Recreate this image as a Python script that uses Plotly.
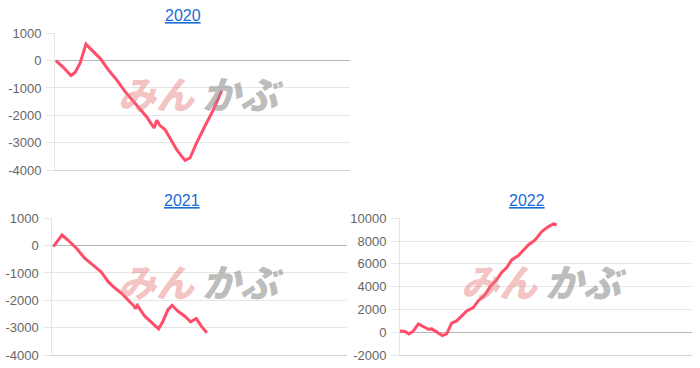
import plotly.graph_objects as go

# x positions are percent of the year axis (0-100)
x2020 = [0.3, 2.8, 5.4, 6.8, 8.5, 10.5, 11.9, 15.3, 18.1, 20.9, 23.7, 26.6, 28.8, 31.1, 32.8, 33.6, 34.5, 35.6, 37.3, 39.0, 41.2, 42.9, 44.1, 45.8, 48.0, 50.8, 53.7, 55.4, 56.5]
y2020 = [0, -242, -545, -436, -97, 606, 448, 85, -339, -703, -1127, -1490, -1733, -2060, -2339, -2460, -2182, -2376, -2521, -2824, -3248, -3491, -3648, -3552, -3006, -2400, -1794, -1370, -1091]

x2021 = [0.34, 3.3, 5.3, 8.2, 11.0, 13.8, 16.7, 18.9, 20.6, 23.4, 25.7, 27.8, 28.2, 28.9, 31.4, 33.6, 36.1, 37.6, 39.3, 40.7, 42.7, 45.0, 47.0, 48.9, 50.6, 52.5]
y2021 = [-36, 388, 206, -97, -461, -703, -970, -1309, -1491, -1733, -1976, -2218, -2303, -2182, -2582, -2788, -3042, -2764, -2339, -2182, -2400, -2582, -2788, -2667, -2945, -3188]

x2022 = [0, 1.7, 3.1, 4.6, 6.3, 8.0, 9.7, 10.9, 12.6, 14.5, 16.0, 17.7, 19.4, 21.7, 22.9, 25.1, 26.8, 29.1, 30.9, 33.1, 34.9, 36.6, 38.3, 40.6, 42.3, 44.0, 46.3, 48.6, 50.9, 52.6, 53.7]
y2022 = [117, 58, -146, 117, 731, 497, 263, 292, 0, -292, -146, 789, 994, 1579, 1871, 2164, 2749, 3275, 4006, 4591, 5263, 5673, 6345, 6725, 7222, 7661, 8099, 8830, 9269, 9503, 9415]

titles = ["2020", "2021", "2022"]
ticks_a = [1000, 0, -1000, -2000, -3000, -4000]
ticks_b = [10000, 8000, 6000, 4000, 2000, 0, -2000]
line_color = "#ff4d6a"

fig = go.Figure()
fig.add_trace(go.Scatter(x=x2020, y=y2020, mode="lines", line=dict(color=line_color, width=3), xaxis="x", yaxis="y"))
fig.add_trace(go.Scatter(x=x2021, y=y2021, mode="lines", line=dict(color=line_color, width=3), xaxis="x2", yaxis="y2"))
fig.add_trace(go.Scatter(x=x2022, y=y2022, mode="lines", line=dict(color=line_color, width=3), xaxis="x3", yaxis="y3"))

W, H = 700, 368
def dx(a, b):
    return [a / W, b / W]
def dy(top, bottom):
    return [1 - bottom / H, 1 - top / H]

font_tick = dict(family="Liberation Sans, Arial, sans-serif", size=13, color="#666666")

def xa(domain, anchor):
    return dict(domain=domain, range=[0, 100], showticklabels=False, showgrid=False,
                zeroline=False, showline=True, linecolor="#d0d0d0", linewidth=1,
                anchor=anchor, fixedrange=True, automargin=False)

def ya(domain, anchor, rng, tv):
    return dict(domain=domain, range=rng, tickvals=tv, ticktext=[str(v) for v in tv],
                showgrid=True, gridcolor="#e6e6e6", gridwidth=1, zeroline=True,
                zerolinecolor="#b5b5b5", zerolinewidth=1, showline=True, linecolor="#e6e6e6",
                linewidth=1, ticks="outside", ticklen=8, tickcolor="#e6e6e6", tickfont=font_tick,
                anchor=anchor, fixedrange=True, automargin=False, ticklabelstandoff=2)

fig.update_layout(
    template="none",
    width=W, height=H, margin=dict(l=0, r=0, t=0, b=0, autoexpand=False),
    paper_bgcolor="white", plot_bgcolor="white", showlegend=False,
    xaxis=xa(dx(55, 350), "y"),
    yaxis=ya(dy(33.3, 170), "x", [-4000, 1000], ticks_a),
    xaxis2=xa(dx(52.3, 346.7), "y2"),
    yaxis2=ya(dy(218.3, 355), "x2", [-4000, 1000], ticks_a),
    xaxis3=xa(dx(400, 691.7), "y3"),
    yaxis3=ya(dy(218.3, 355), "x3", [-2000, 10000], ticks_b),
)

ann = []
title_pos = [(183, 15), (182, 200), (527, 200)]
for t, (cx, cy) in zip(titles, title_pos):
    ann.append(dict(text="<u>" + t + "</u>", x=cx / W, y=1 - cy / H, xref="paper", yref="paper",
                    showarrow=False, xanchor="center", yanchor="middle",
                    font=dict(family="Liberation Sans, Arial, sans-serif", size=16, color="#1a6bd6")))

wm_pos = [(157, 243, 92), (157, 243, 280), (500, 586, 280)]
for px, gx, cy in wm_pos:
    ann.append(dict(text="みん", x=px / W, y=1 - cy / H, xref="paper", yref="paper", showarrow=False,
                    xanchor="center", yanchor="middle",
                    font=dict(family="Noto Sans CJK JP", size=38, color="rgba(232,120,120,0.45)",
                              weight=900, style="italic")))
    ann.append(dict(text="かぶ", x=gx / W, y=1 - cy / H, xref="paper", yref="paper", showarrow=False,
                    xanchor="center", yanchor="middle",
                    font=dict(family="Noto Sans CJK JP", size=38, color="rgba(150,150,150,0.65)",
                              weight=900, style="italic")))
fig.update_layout(annotations=ann)

fig.write_html("out.html")
